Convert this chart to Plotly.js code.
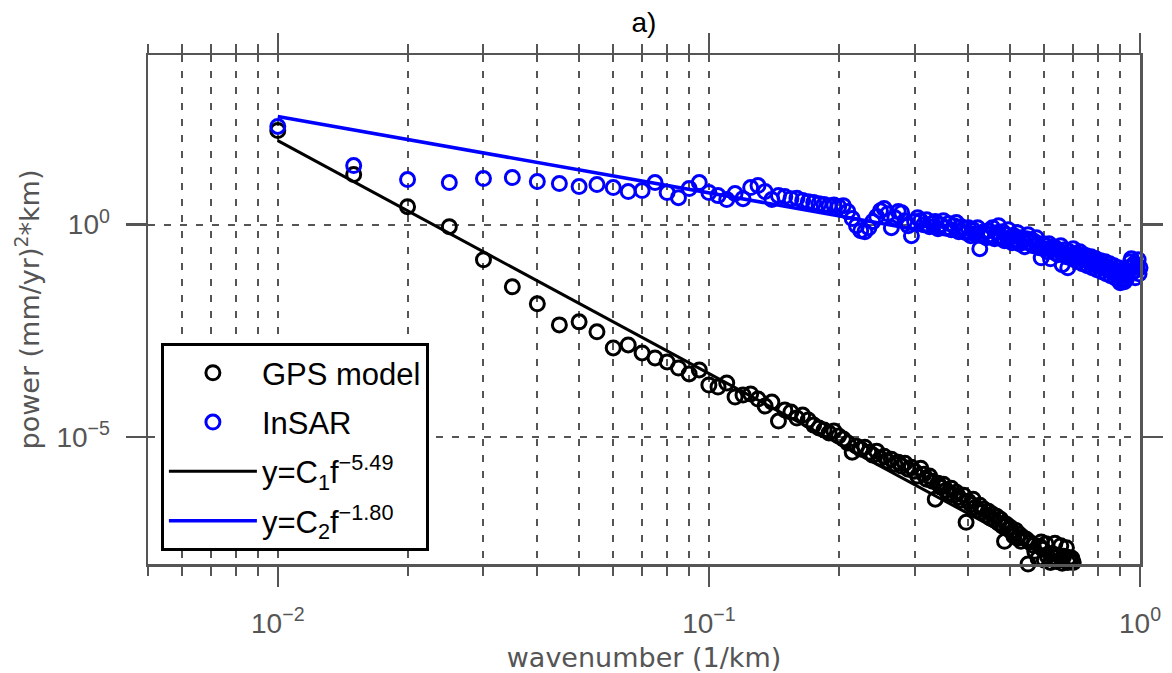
<!DOCTYPE html>
<html>
<head>
<meta charset="utf-8">
<script src="https://cdn.plot.ly/plotly-3.0.1.min.js"></script>
<style>html,body{margin:0;padding:0;background:#fff;}#chart{width:1172px;height:673px;}</style>
</head>
<body>
<div id="chart"></div>
<script>
// wavenumber (1/km)
const wavenumber = [
0.010,0.015,0.020,0.025,0.030,0.035,0.040,0.045,0.050,0.055,0.060,0.065,0.070,0.075,0.080,0.085,0.090,0.095,0.100,
0.105,0.110,0.115,0.120,0.125,0.130,0.135,0.140,0.145,0.150,0.155,0.160,0.165,0.170,0.175,0.180,0.185,0.190,0.195,0.200,
0.205,0.210,0.215,0.220,0.225,0.230,0.235,0.240,0.245,0.250,0.255,0.260,0.265,0.270,0.275,0.280,0.285,0.290,0.295,0.300,
0.305,0.310,0.315,0.320,0.325,0.330,0.335,0.340,0.345,0.350,0.355,0.360,0.365,0.370,0.375,0.380,0.385,0.390,0.395,0.400,
0.405,0.410,0.415,0.420,0.425,0.430,0.435,0.440,0.445,0.450,0.455,0.460,0.465,0.470,0.475,0.480,0.485,0.490,0.495,0.500,
0.505,0.510,0.515,0.520,0.525,0.530,0.535,0.540,0.545,0.550,0.555,0.560,0.565,0.570,0.575,0.580,0.585,0.590,0.595,0.600,
0.605,0.610,0.615,0.620,0.625,0.630,0.635,0.640,0.645,0.650,0.655,0.660,0.665,0.670,0.675,0.680,0.685,0.690,0.695,0.700,
0.705,0.710,0.715,0.720,0.725,0.730,0.735,0.740,0.745,0.750,0.755,0.760,0.765,0.770,0.775,0.780,0.785,0.790,0.795,0.800,
0.805,0.810,0.815,0.820,0.825,0.830,0.835,0.840,0.845,0.850,0.855,0.860,0.865,0.870,0.875,0.880,0.885,0.890,0.895,0.900,
0.905,0.910,0.915,0.920,0.925,0.930,0.935,0.940,0.945,0.950,0.955,0.960,0.965,0.970,0.975,0.980,0.985,0.990,0.995,1.000
];

// GPS model power, wavenumber 0.010 .. 0.700
const gpsPower = [
166,15.2,2.66,0.897,0.149,0.0343,0.0136,0.00434,0.00511,0.00297,0.00124,0.00146,9.46e-4,7.21e-4,5.80e-4,4.18e-4,3.02e-4,3.75e-4,1.66e-4,
1.49e-4,1.85e-4,8.65e-5,9.64e-5,1.02e-4,7.75e-5,5.30e-5,6.59e-5,2.34e-5,4.26e-5,3.82e-5,2.76e-5,3.25e-5,2.47e-5,1.88e-5,1.60e-5,1.44e-5,1.22e-5,1.36e-5,1.04e-5,
8.80e-6,7.08e-6,4.34e-6,6.01e-6,5.11e-6,5.69e-6,4.34e-6,3.69e-6,4.58e-6,3.13e-6,3.49e-6,2.66e-6,2.96e-6,2.26e-6,2.52e-6,2.03e-6,2.38e-6,1.72e-6,1.92e-6,1.54e-6,
1.18e-6,1.82e-6,1.31e-6,1.00e-6,1.18e-6,8.96e-7,3.37e-7,8.04e-7,6.46e-7,7.61e-7,5.49e-7,4.66e-7,6.12e-7,4.18e-7,4.93e-7,3.75e-7,3.19e-7,4.18e-7,9.63e-8,3.02e-7,
2.56e-7,3.37e-7,2.18e-7,1.85e-7,2.43e-7,1.66e-7,1.95e-7,1.41e-7,1.75e-7,1.20e-7,1.49e-7,1.07e-7,1.33e-7,9.12e-8,1.13e-7,7.75e-8,3.43e-8,8.64e-8,6.58e-8,7.34e-8,
5.59e-8,4.50e-8,6.23e-8,4.03e-8,5.01e-8,3.43e-8,4.26e-8,8.8e-9,3.82e-8,1.0e-8,3.24e-8,8.2e-9,2.76e-8,1.99e-8,9.3e-9,1.36e-8,2.61e-8,3.3e-8,2.22e-8,1.22e-8,
3.0e-8,1.52e-8,8.6e-9,1.09e-8,1.78e-8,1.43e-8,3.1e-8,1.15e-8,1.60e-8,9.0e-9,2.7e-8,1.04e-8,1.52e-8,8.4e-9,2.4e-8,1.09e-8,1.43e-8,1.15e-8,1.36e-8,1.09e-8
];

// InSAR power, wavenumber 0.010 .. 1.000
const insarPower = [
207,24.8,11.6,9.82,12.2,12.9,10.4,9.30,7.90,8.81,7.48,6.02,6.36,9.82,5.70,4.34,7.09,9.82,5.70,
4.84,3.90,5.40,4.11,7.48,8.34,6.02,3.90,4.84,4.59,4.11,4.20,3.69,3.49,3.31,3.13,2.97,2.81,2.90,2.66,
2.81,2.03,1.39,0.947,0.721,0.683,0.850,1.18,1.55,2.14,2.39,1.82,0.850,1.46,2.03,1.92,1.24,0.947,0.550,1.18,
1.46,1.24,1.00,1.31,0.897,1.06,1.18,0.804,1.00,1.24,0.850,1.06,0.762,0.947,1.12,0.683,0.897,0.804,0.647,0.850,
0.550,0.762,0.613,0.850,0.271,0.550,0.683,0.493,0.721,0.580,0.850,0.467,0.647,0.947,0.521,0.683,0.419,0.580,0.762,0.493,
0.376,0.550,0.442,0.647,0.356,0.493,0.419,0.302,0.467,0.580,0.376,0.442,0.319,0.397,0.493,0.337,0.286,0.166,0.356,0.271,
0.319,0.230,0.356,0.157,0.257,0.302,0.218,0.271,0.196,0.243,0.319,0.114,0.206,0.257,0.175,0.0964,0.230,0.166,0.196,0.271,
0.149,0.206,0.175,0.134,0.230,0.166,0.120,0.196,0.149,0.185,0.108,0.157,0.127,0.175,0.0964,0.141,0.114,0.157,0.0865,0.127,
0.102,0.141,0.0776,0.114,0.0964,0.134,0.0696,0.102,0.0865,0.120,0.0624,0.0913,0.0776,0.108,0.0560,0.0819,0.0696,0.0964,0.0475,0.0426,
0.0659,0.0530,0.0776,0.0450,0.0624,0.0530,0.0735,0.0819,0.0964,0.134,0.157,0.108,0.0776,0.120,0.0560,0.0865,0.102,0.149,0.0696,0.0964
];

// power-law fit lines (end points)
const fit1X = [0.01, 0.7];
const fit1Y = [95.5, 7.09e-9];
const fit2X = [0.01, 1.0];
const fit2Y = [355, 0.0891];

// axis ticks
const xMajorTicks = [0.01, 0.1, 1];
const xMajorText = ['10<sup>−2</sup>', '10<sup>−1</sup>', '10<sup>0</sup>'];
const xMinorTicks = [0.005,0.006,0.007,0.008,0.009,0.02,0.03,0.04,0.05,0.06,0.07,0.08,0.09,0.2,0.3,0.4,0.5,0.6,0.7,0.8,0.9];
const yMajorTicks = [1e-5, 1];
const yMajorText = ['10<sup>−5</sup>', '10<sup>0</sup>'];

const gpsX = wavenumber.slice(0, gpsPower.length);
const AX = '#555555';
const FONT = 'Liberation Sans, Arial, sans-serif';

const traces = [
  {x: gpsX, y: gpsPower, type: 'scatter', mode: 'markers', name: 'GPS model', cliponaxis: false, legendgroup: 'g1',
   marker: {symbol: 'circle-open', size: 14, color: 'black', line: {width: 3, color: 'black'}}},
  {x: wavenumber, y: insarPower, type: 'scatter', mode: 'markers', name: 'InSAR', cliponaxis: false, legendgroup: 'g2',
   marker: {symbol: 'circle-open', size: 14, color: '#0000ff', line: {width: 3, color: '#0000ff'}}},
  {x: fit1X, y: fit1Y, type: 'scatter', mode: 'lines', name: 'y=C<sub>1</sub>f<sup>−5.49</sup>', legendgroup: 'g3',
   line: {color: 'black', width: 3}},
  {x: fit2X, y: fit2Y, type: 'scatter', mode: 'lines', name: 'y=C<sub>2</sub>f<sup>−1.80</sup>', legendgroup: 'g4',
   line: {color: '#0000ff', width: 3.5}}
];

const layout = {
  width: 1172, height: 673,
  margin: {l: 148, r: 32, t: 55, b: 109},
  paper_bgcolor: 'white', plot_bgcolor: 'white',
  font: {family: FONT, color: AX},
  title: {text: 'a)', x: 0.5, xref: 'paper', y: 0.967, yref: 'container', yanchor: 'middle',
          font: {family: FONT, size: 28, color: 'black'}},
  showlegend: true,
  legend: {x: 0.013, y: 0.434, xanchor: 'left', yanchor: 'top', bgcolor: 'white',
           bordercolor: 'black', borderwidth: 3, font: {family: FONT, size: 31, color: 'black'},
           itemwidth: 88, tracegroupgap: 6},
  xaxis: {
    type: 'log', range: [Math.log10(0.005), 0],
    tickmode: 'array', tickvals: xMajorTicks, ticktext: xMajorText,
    ticks: 'outside', ticklen: 20, tickwidth: 2.5, tickcolor: AX,
    showline: true, linecolor: AX, linewidth: 2.5, mirror: 'ticks',
    showgrid: true, gridcolor: AX, gridwidth: 2, griddash: '7px,9px',
    tickfont: {family: FONT, size: 28, color: AX}, ticklabelstandoff: 13,
    minor: {tickmode: 'array', tickvals: xMinorTicks, ticks: 'outside', ticklen: 9, tickwidth: 2, tickcolor: AX,
            showgrid: true, gridcolor: AX, gridwidth: 2, griddash: '7px,9px'},
    title: {text: 'wavenumber (1/km)', font: {family: 'DejaVu Sans, sans-serif', size: 27, color: AX}, standoff: 10},
    automargin: false
  },
  yaxis: {
    type: 'log', range: [-8, 4],
    tickmode: 'array', tickvals: yMajorTicks, ticktext: yMajorText,
    ticks: 'outside', ticklen: 20, tickwidth: 2.5, tickcolor: AX,
    showline: true, linecolor: AX, linewidth: 2.5, mirror: 'ticks',
    showgrid: true, gridcolor: AX, gridwidth: 2, griddash: '7px,9px',
    tickfont: {family: FONT, size: 28, color: AX}, ticklabelstandoff: 10,
    title: {text: 'power (mm/yr)<sup>2</sup>*km)', font: {family: 'DejaVu Sans, sans-serif', size: 27, color: AX}, standoff: 9},
    automargin: false
  }
};

Plotly.newPlot('chart', traces, layout, {displayModeBar: false, staticPlot: true});
</script>
</body>
</html>
